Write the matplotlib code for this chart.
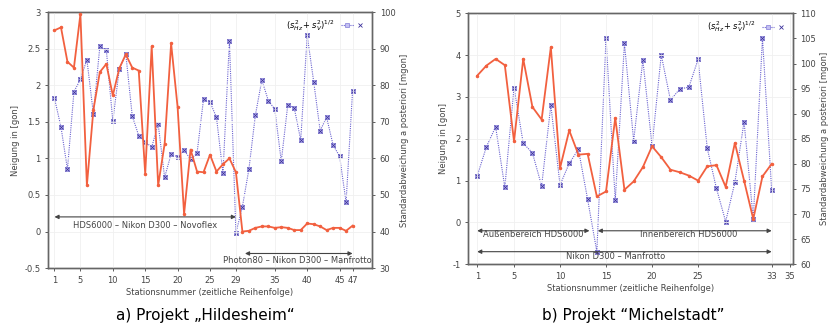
import matplotlib.pyplot as plt
from matplotlib.legend_handler import HandlerTuple
import numpy as np

# Projekt Hildesheim
hil_station = np.arange(1, 48)
hil_neigung = [2.75, 2.79, 2.32, 2.24, 2.97, 0.63, 1.66, 2.18, 2.29, 1.86,
               2.23, 2.42, 2.24, 2.20, 0.79, 2.53, 0.63, 1.20, 2.57, 1.70,
               0.24, 1.12, 0.82, 0.81, 1.05, 0.82, 0.92, 1.00, 0.81, 0.00,
               0.01, 0.05, 0.07, 0.07, 0.05, 0.06, 0.05, 0.02, 0.02, 0.11,
               0.10, 0.07, 0.02, 0.05, 0.05, 0.01, 0.08]
hil_std = [76.4, 68.6, 57.0, 78.2, 81.6, 87.0, 72.2, 90.6, 89.6, 70.2,
           84.4, 88.6, 71.6, 66.2, 64.6, 63.0, 69.4, 54.8, 61.2, 60.4,
           62.2, 59.8, 61.4, 76.2, 75.4, 71.2, 56.0, 92.2, 39.6, 46.8,
           57.0, 71.8, 81.4, 75.8, 73.4, 59.2, 74.6, 73.8, 65.0, 93.6,
           81.0, 67.6, 71.2, 63.6, 60.6, 48.0, 78.4]
hil_xticks = [1, 5, 10, 15, 20, 25, 29, 35, 40, 45, 47]

# Projekt Michelstadt
mic_station = np.arange(1, 34)
mic_neigung = [3.51, 3.75, 3.91, 3.76, 1.94, 3.91, 2.76, 2.46, 4.19, 1.30,
               2.20, 1.62, 1.64, 0.62, 0.74, 2.50, 0.78, 0.98, 1.32, 1.82,
               1.56, 1.26, 1.20, 1.12, 1.00, 1.34, 1.37, 0.85, 1.90, 1.00,
               0.08, 1.10, 1.40]
mic_std = [77.6, 83.4, 87.4, 75.3, 95.2, 84.1, 82.2, 75.6, 91.7, 75.8,
           80.1, 82.9, 72.9, 62.5, 105.1, 72.7, 104.0, 84.6, 100.7, 83.6,
           101.7, 92.7, 94.9, 95.3, 100.8, 83.1, 75.1, 68.5, 76.3, 88.4,
           69.0, 105.1, 74.7]
mic_xticks = [1, 5, 10, 15, 20, 25, 33, 35]

RED = '#f2603f'
BLUE = '#6a62d0'
FRAME = '#666666'
TXT = '#444444'
FS = 6


def arrow(ax, x0, x1, y, text, tx, ty):
    ax.annotate('', xy=(x0, y), xytext=(x1, y),
                arrowprops=dict(arrowstyle='<|-|>', color='#444444', lw=0.8,
                                mutation_scale=6, shrinkA=0, shrinkB=0))
    ax.text(tx, ty, text, ha='center', va='center', fontsize=FS, color=TXT)


def panel(rect, x, neigung, std, xlim, xticks, ylim, yticks, y2lim, y2ticks):
    ax1 = fig.add_axes(rect)
    ax2 = ax1.twinx()
    ax1.grid(True, color='#f0f0f0', lw=0.6)
    ax1.plot(x, neigung, color=RED, lw=1.3, marker='o', ms=1.5, zorder=3)
    ax2.plot(x, std, color=BLUE, lw=0.8, ls=(0, (1, 1)), marker='s', ms=2.6,
             mfc='#c4c0f2', mec=BLUE, mew=0.4)
    ax2.plot(x, std, ls='none', marker='x', ms=2.2, color='#3a2f9a', mew=0.6)
    ax1.set_xlim(*xlim)
    ax1.set_ylim(*ylim)
    ax2.set_ylim(*y2lim)
    ax1.set_xticks(xticks)
    ax1.set_yticks(yticks)
    ax1.set_yticklabels(['%g' % v for v in yticks])
    ax2.set_yticks(y2ticks)
    ax1.set_zorder(ax2.get_zorder() + 1)
    ax1.patch.set_visible(False)
    for a in (ax1, ax2):
        a.tick_params(labelsize=FS, length=2.5, width=0.6, colors=TXT,
                      direction='out', pad=3)
        for s in a.spines.values():
            s.set_color(FRAME)
            s.set_linewidth(1.0)
    ax1.set_xlabel('Stationsnummer (zeitliche Reihenfolge)', fontsize=FS, color=TXT, labelpad=2)
    ax1.set_ylabel('Neigung in [gon]', fontsize=FS, color=TXT, labelpad=3)
    ax2.set_ylabel('Standardabweichung a posteriori [mgon]', fontsize=FS, color=TXT, labelpad=3)
    h = (ax2.lines[0], ax2.lines[1])
    ax1.legend([h], [r'$(s^2_{Hz}+s^2_V)^{1/2}$'], loc='upper right', fontsize=FS,
               frameon=False, markerfirst=False, handlelength=3,
               handler_map={tuple: HandlerTuple(ndivide=None, pad=0)},
               borderaxespad=0.3)
    return ax1


fig = plt.figure(figsize=(8.35, 3.25), dpi=100)

ax = panel([0.0575, 0.175, 0.388, 0.788], hil_station, hil_neigung, hil_std,
           (0, 50), hil_xticks, (-0.5, 3), np.arange(-0.5, 3.01, 0.5),
           (30, 100), np.arange(30, 101, 10))
arrow(ax, 1, 29, 0.2, 'HDS6000 – Nikon D300 – Novoflex', 15, 0.08)
arrow(ax, 30.4, 47, -0.3, 'Photon80 – Nikon D300 – Manfrotto', 38.5, -0.4)

ax = panel([0.5605, 0.187, 0.389, 0.772], mic_station, mic_neigung, mic_std,
           (0, 35.3), mic_xticks, (-1, 5), np.arange(-1, 5.1, 1),
           (60, 110), np.arange(60, 111, 5))
arrow(ax, 1, 13.2, -0.2, 'Außenbereich HDS6000', 7.1, -0.29)
arrow(ax, 14.1, 33, -0.2, 'Innenbereich HDS6000', 24, -0.29)
arrow(ax, 1, 33, -0.7, 'Nikon D300 – Manfrotto', 16, -0.81)

fig.text(0.246, 0.03, 'a) Projekt „Hildesheim“', ha='center', va='center', fontsize=11)
fig.text(0.758, 0.03, 'b) Projekt “Michelstadt”', ha='center', va='center', fontsize=11)

fig.savefig('out.png', dpi=100)
